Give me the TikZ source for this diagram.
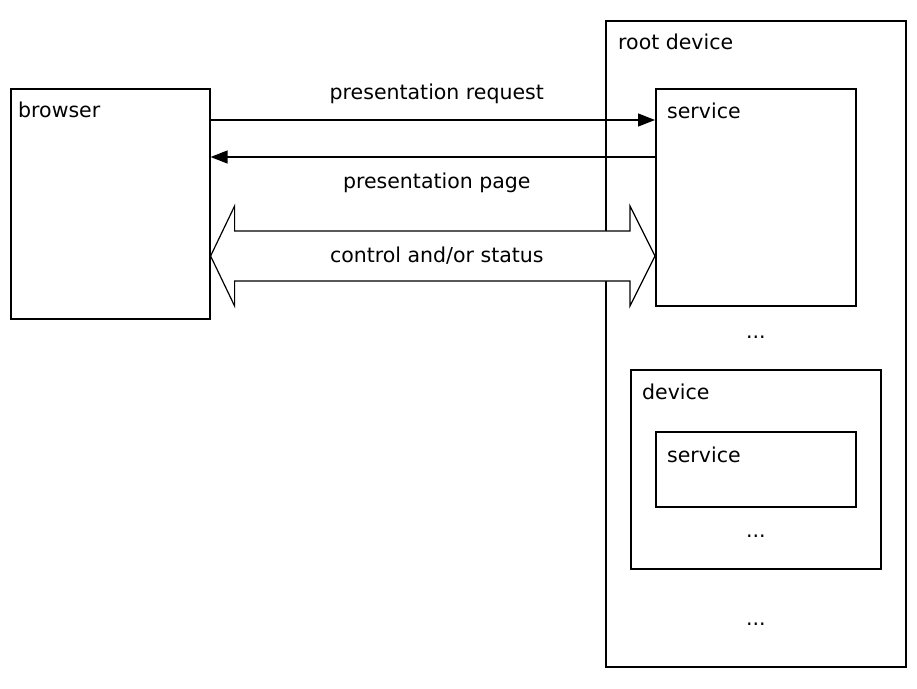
\documentclass[tikz,border=0pt]{standalone}
\usepackage{fontspec}
\setmainfont{DejaVu Sans}
\usetikzlibrary{arrows.meta,calc,positioning}

\begin{document}
\begin{tikzpicture}[x=1pt, y=-1pt,
    box/.style={draw, line width=1.6pt, anchor=north west, inner sep=0pt},
    lbl/.style={font=\fontsize{20.5}{24}\selectfont, inner sep=0pt, anchor=base west},
    msg/.style={line width=1.3pt, -{Triangle[length=17pt, width=13pt]}},
    dotsmark/.style={font=\fontsize{20.5}{24}\selectfont, inner sep=0pt, anchor=base}
  ]
  \useasboundingbox (0,0) rectangle (917,688);

  % browser side
  \node[box, minimum width=199pt, minimum height=230pt] (browser) at (10,88) {};
  \node[lbl] (browserlbl) at ([shift={(8,29)}]browser.north west) {browser};

  % root device with its services
  \node[box, minimum width=300pt, minimum height=646pt] (root) at (605,20) {};
  \node[lbl] (rootlbl) at ([shift={(13,29)}]root.north west) {root device};

  \node[box, minimum width=200pt, minimum height=217pt] (service1) at (655,88) {};
  \node[lbl] (service1lbl) at ([shift={(12,30)}]service1.north west) {service};
  \node[dotsmark] (dots1) at ($(service1.south)+(0,32)$) {...};

  \node[box, minimum width=250pt, minimum height=199pt] (device) at (630,369) {};
  \node[lbl] (devicelbl) at ([shift={(12,30)}]device.north west) {device};

  \node[box, minimum width=200pt, minimum height=75pt] (service2) at (655,431) {};
  \node[lbl] (service2lbl) at ([shift={(12,31)}]service2.north west) {service};
  \node[dotsmark] (dots2) at ($(service2.south)+(0,30)$) {...};
  \node[dotsmark] (dots3) at ($(root.south)+(0,-42)$) {...};

  % messages
  \coordinate (reqL) at ($(browser.north east)+(0,32)$);
  \coordinate (reqR) at ($(service1.north west)+(0,32)$);
  \coordinate (pageL) at ($(browser.north east)+(0,69)$);
  \coordinate (pageR) at ($(service1.north west)+(0,69)$);
  \coordinate (ctlL) at ($(browser.north east)+(0,168)$);
  \coordinate (ctlR) at ($(service1.north west)+(0,168)$);

  \draw[msg] (reqL) -- (reqR);
  \draw[msg] (pageR) -- (pageL);
  \node[lbl, anchor=base] (reqlbl) at ($(reqL)!0.5!(reqR)+(4,-21)$) {presentation request};
  \node[lbl, anchor=base] (pagelbl) at ($(pageL)!0.5!(pageR)+(4,31)$) {presentation page};

  % control and/or status
  \draw[line width=1.2pt, fill=white, line join=miter]
    (ctlL) -- ++(24,-50) -- ++(0,25) -- ($(ctlR)+(-25,-25)$) -- ++(0,-25)
    -- (ctlR) -- ++(-25,50) -- ++(0,-25) -- ($(ctlL)+(24,25)$) -- ++(0,25) -- cycle;
  \node[lbl, anchor=base] (ctllbl) at ($(ctlL)!0.5!(ctlR)+(4,6)$) {control and/or status};
\end{tikzpicture}
\end{document}
